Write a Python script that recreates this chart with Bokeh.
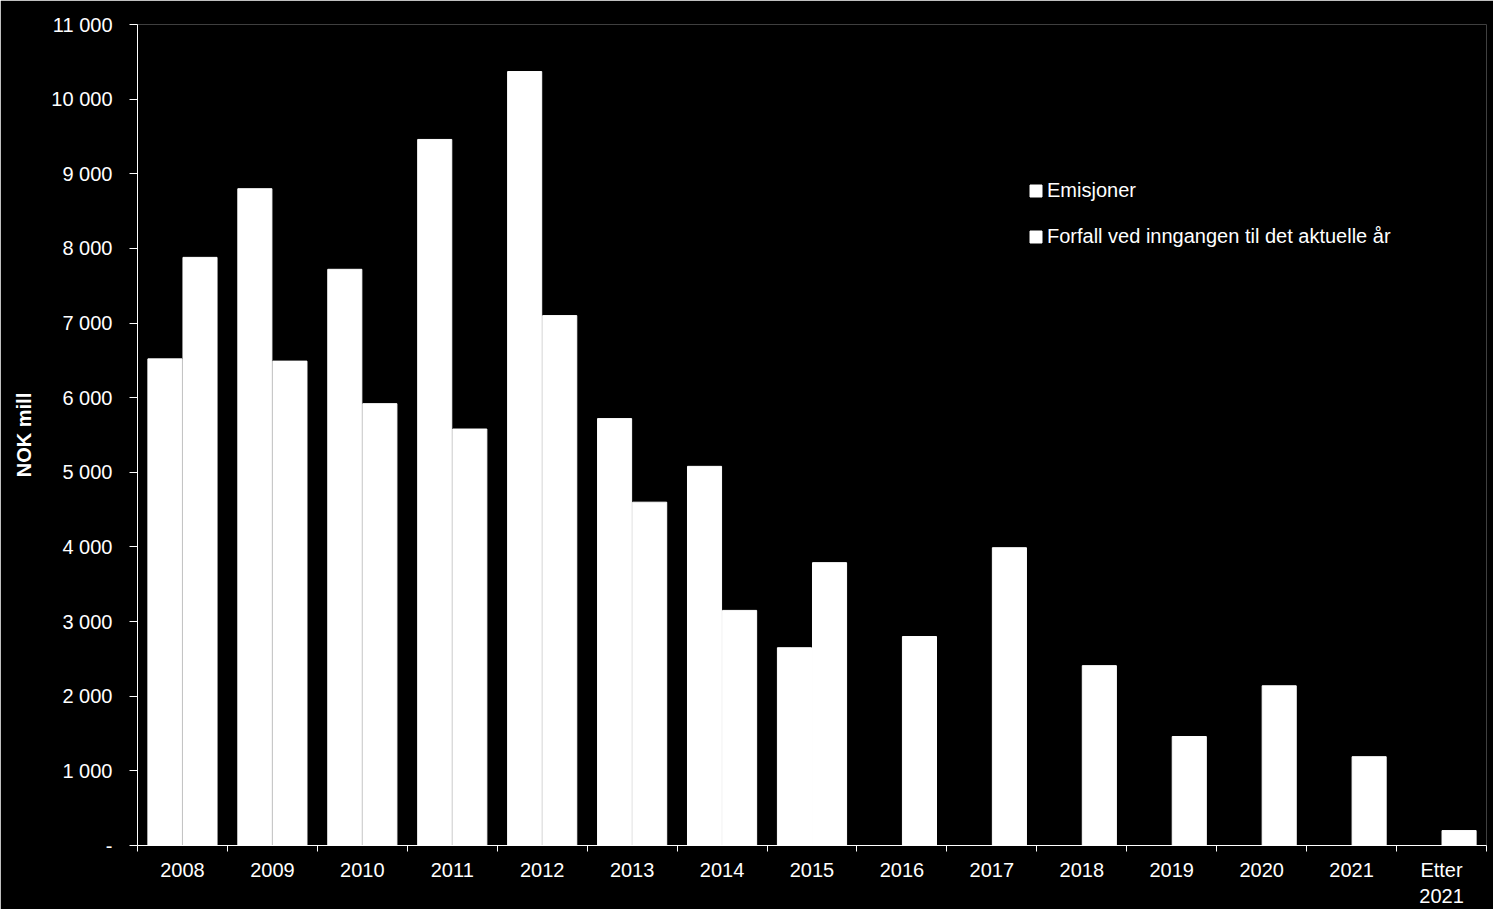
from bokeh.plotting import figure
from bokeh.models import ColumnDataSource, Range1d, FixedTicker, Legend, LegendItem
from bokeh.transform import dodge
from bokeh.embed import file_html
from bokeh.resources import INLINE

# ---- data ----
categories = ["2008", "2009", "2010", "2011", "2012", "2013", "2014", "2015",
              "2016", "2017", "2018", "2019", "2020", "2021", "Etter\n2021"]
emisjoner = [6520, 8800, 7720, 9460, 10370, 5720, 5080, 2650,
             0, 0, 0, 0, 0, 0, 0]
forfall = [7880, 6490, 5920, 5580, 7100, 4600, 3150, 3790,
           2800, 3990, 2410, 1460, 2140, 1190, 200]
series_names = ["Emisjoner", "Forfall ved inngangen til det aktuelle år"]
y_ticks = [0, 1000, 2000, 3000, 4000, 5000, 6000, 7000, 8000, 9000, 10000, 11000]
y_tick_labels = ["-", "1 000", "2 000", "3 000", "4 000", "5 000", "6 000",
                 "7 000", "8 000", "9 000", "10 000", "11 000"]
y_label = "NOK mill"

FONT = "Liberation Sans"
n = len(categories)
centers = [i + 0.5 for i in range(n)]

src = ColumnDataSource(dict(x=centers, e=emisjoner, f=forfall))

p = figure(width=1493, height=909, output_backend="svg", toolbar_location=None,
           x_range=Range1d(0, n), y_range=Range1d(0, 11000),
           background_fill_color="black", border_fill_color="black",
           outline_line_color=None,
           min_border_left=137, min_border_right=7, min_border_top=24, min_border_bottom=64)

bw = 0.39
r1 = p.vbar(x=dodge("x", -bw / 2), top="e", width=bw - 0.011, source=src,
            fill_color="white", line_color="white", line_width=1)
r2 = p.vbar(x=dodge("x", bw / 2), top="f", width=bw - 0.011, source=src,
            fill_color="white", line_color="white", line_width=1)

p.xgrid.visible = False
p.ygrid.visible = False

# x axis: labels at category centres, tick marks at category boundaries
xa = p.xaxis[0]
xa.ticker = FixedTicker(ticks=centers, minor_ticks=list(range(n + 1)))
xa.major_label_overrides = {c: lab for c, lab in zip(centers, categories)}
xa.major_tick_out = 0
xa.major_tick_in = 0
xa.minor_tick_out = 6
xa.minor_tick_in = 0
xa.minor_tick_line_color = "white"
xa.axis_line_color = "white"
xa.major_label_text_color = "white"
xa.major_label_text_font = FONT
xa.major_label_text_font_size = "20px"
xa.major_label_standoff = 7

ya = p.yaxis[0]
ya.ticker = FixedTicker(ticks=y_ticks, minor_ticks=[])
ya.major_label_overrides = {t: lab for t, lab in zip(y_ticks, y_tick_labels)}
ya.major_tick_out = 8
ya.major_tick_in = 0
ya.major_tick_line_color = "white"
ya.axis_line_color = "white"
ya.major_label_text_color = "white"
ya.major_label_text_font = FONT
ya.major_label_text_font_size = "20px"
ya.major_label_standoff = 17
ya.axis_label = y_label
ya.axis_label_text_color = "white"
ya.axis_label_text_font = FONT
ya.axis_label_text_font_size = "20px"
ya.axis_label_text_font_style = "bold"
ya.axis_label_standoff = 13

legend = Legend(items=[LegendItem(label=series_names[0], renderers=[r1]),
                       LegendItem(label=series_names[1], renderers=[r2])],
                location=(891, 597), orientation="vertical",
                background_fill_color="black", background_fill_alpha=1,
                border_line_color=None, glyph_width=15, glyph_height=15,
                label_standoff=4, spacing=23, padding=0, margin=0,
                label_text_color="white", label_text_font=FONT,
                label_text_font_size="20px")
p.add_layout(legend, "center")

open("out.html", "w").write(file_html(p, INLINE))
